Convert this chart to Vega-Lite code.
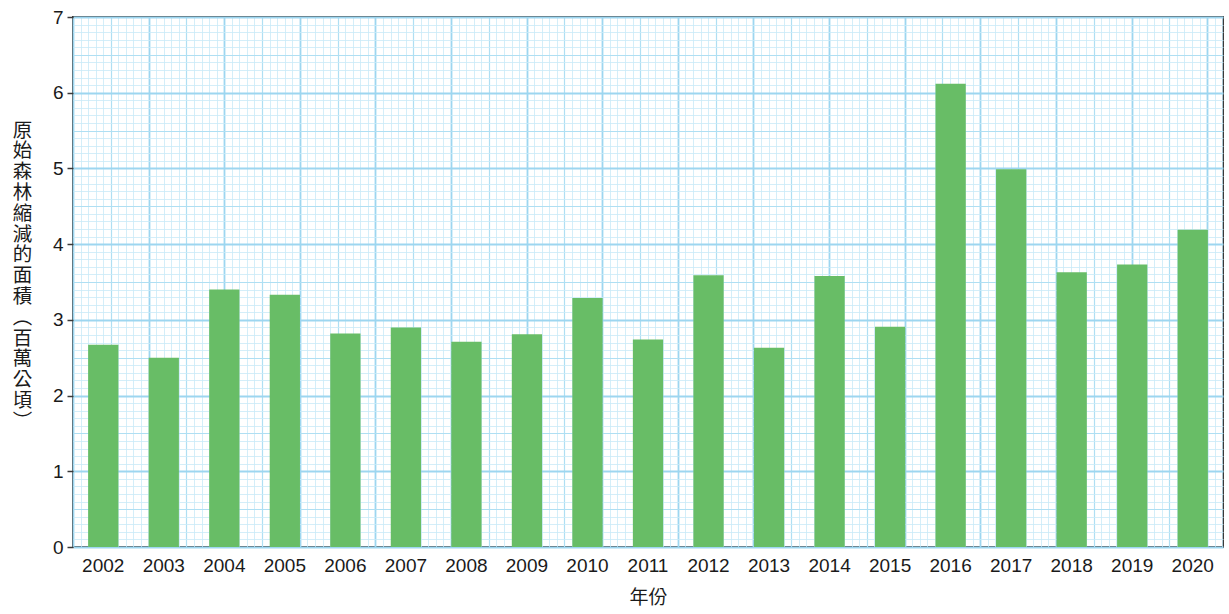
{
  "$schema": "https://vega.github.io/schema/vega-lite/v6.json",
  "width": 1150,
  "height": 530,
  "autosize": {"type": "none"},
  "padding": {"left": 73, "top": 17, "right": 6, "bottom": 67},
  "background": "white",
  "config": {
    "view": {"stroke": "#3a3a3a", "strokeWidth": 2},
    "axis": {"labelFont": "Liberation Sans", "labelColor": "#1a1a1a", "titleColor": "#1a1a1a", "titleFont": "Noto Sans CJK TC", "titleFontWeight": "normal"}
  },
  "data": {"values": [
    {"year": "2002", "area": 2.67},
    {"year": "2003", "area": 2.50},
    {"year": "2004", "area": 3.40},
    {"year": "2005", "area": 3.33},
    {"year": "2006", "area": 2.82},
    {"year": "2007", "area": 2.90},
    {"year": "2008", "area": 2.71},
    {"year": "2009", "area": 2.81},
    {"year": "2010", "area": 3.29},
    {"year": "2011", "area": 2.74},
    {"year": "2012", "area": 3.59},
    {"year": "2013", "area": 2.63},
    {"year": "2014", "area": 3.58},
    {"year": "2015", "area": 2.91},
    {"year": "2016", "area": 6.12},
    {"year": "2017", "area": 4.99},
    {"year": "2018", "area": 3.63},
    {"year": "2019", "area": 3.73},
    {"year": "2020", "area": 4.19}
  ]},
  "layer": [
    {
      "mark": {"type": "point", "opacity": 0},
      "encoding": {
        "x": {"datum": 0, "type": "quantitative",
          "scale": {"domain": [0, 15.21], "nice": false, "zero": false},
          "axis": {"orient": "top", "title": null, "labels": false, "ticks": false, "domain": false, "grid": true,
            "values": [0,0.1,0.2,0.3,0.4,0.5,0.6,0.7,0.8,0.9,1,1.1,1.2,1.3,1.4,1.5,1.6,1.7,1.8,1.9,2,2.1,2.2,2.3,2.4,2.5,2.6,2.7,2.8,2.9,3,3.1,3.2,3.3,3.4,3.5,3.6,3.7,3.8,3.9,4,4.1,4.2,4.3,4.4,4.5,4.6,4.7,4.8,4.9,5,5.1,5.2,5.3,5.4,5.5,5.6,5.7,5.8,5.9,6,6.1,6.2,6.3,6.4,6.5,6.6,6.7,6.8,6.9,7,7.1,7.2,7.3,7.4,7.5,7.6,7.7,7.8,7.9,8,8.1,8.2,8.3,8.4,8.5,8.6,8.7,8.8,8.9,9,9.1,9.2,9.3,9.4,9.5,9.6,9.7,9.8,9.9,10,10.1,10.2,10.3,10.4,10.5,10.6,10.7,10.8,10.9,11,11.1,11.2,11.3,11.4,11.5,11.6,11.7,11.8,11.9,12,12.1,12.2,12.3,12.4,12.5,12.6,12.7,12.8,12.9,13,13.1,13.2,13.3,13.4,13.5,13.6,13.7,13.8,13.9,14,14.1,14.2,14.3,14.4,14.5,14.6,14.7,14.8,14.9,15,15.1,15.2],
            "gridColor": {"condition": [
              {"test": "abs(datum.value - round(datum.value)) < 0.001", "value": "#9dd6f0"},
              {"test": "abs(datum.value*2 - round(datum.value*2)) < 0.001", "value": "#afdff3"}
            ], "value": "#c9eaf7"},
            "gridWidth": {"condition": [
              {"test": "abs(datum.value - round(datum.value)) < 0.001", "value": 1.8},
              {"test": "abs(datum.value*2 - round(datum.value*2)) < 0.001", "value": 1.2}
            ], "value": 0.8}
          }
        },
        "y": {"datum": 0, "type": "quantitative",
          "scale": {"domain": [0, 7], "nice": false, "zero": false},
          "axis": {"orient": "right", "title": null, "labels": false, "ticks": false, "domain": false, "grid": true,
            "values": [0,0.1,0.2,0.3,0.4,0.5,0.6,0.7,0.8,0.9,1,1.1,1.2,1.3,1.4,1.5,1.6,1.7,1.8,1.9,2,2.1,2.2,2.3,2.4,2.5,2.6,2.7,2.8,2.9,3,3.1,3.2,3.3,3.4,3.5,3.6,3.7,3.8,3.9,4,4.1,4.2,4.3,4.4,4.5,4.6,4.7,4.8,4.9,5,5.1,5.2,5.3,5.4,5.5,5.6,5.7,5.8,5.9,6,6.1,6.2,6.3,6.4,6.5,6.6,6.7,6.8,6.9,7],
            "gridColor": {"condition": [
              {"test": "abs(datum.value - round(datum.value)) < 0.001", "value": "#9dd6f0"},
              {"test": "abs(datum.value*2 - round(datum.value*2)) < 0.001", "value": "#afdff3"}
            ], "value": "#c9eaf7"},
            "gridWidth": {"condition": [
              {"test": "abs(datum.value - round(datum.value)) < 0.001", "value": 1.8},
              {"test": "abs(datum.value*2 - round(datum.value*2)) < 0.001", "value": 1.2}
            ], "value": 0.8}
          }
        }
      }
    },
    {
      "mark": {"type": "bar", "color": "#68bd66"},
      "encoding": {
        "x": {"field": "year", "type": "ordinal",
          "scale": {"paddingInner": 0.5, "paddingOuter": 0.25},
          "axis": {"orient": "bottom", "title": "年份", "labelAngle": 0, "labelFontSize": 19, "ticks": false, "labelPadding": 9, "domain": false, "grid": false, "titleFontSize": 19, "titlePadding": 13}
        },
        "y": {"field": "area", "type": "quantitative",
          "scale": {"domain": [0, 7], "nice": false},
          "axis": {"orient": "left", "values": [0,1,2,3,4,5,6,7], "grid": false, "domain": false, "tickSize": 6, "tickColor": "#3a3a3a", "tickWidth": 1.5, "labelFontSize": 19, "labelPadding": 4,
            "title": ["原","始","森","林","縮","減","的","面","積","︵","百","萬","公","頃","︶"],
            "titleAngle": 0, "titleFontSize": 19.5, "titleLineHeight": 20.8, "titleAlign": "center", "titleBaseline": "top", "titleX": -51, "titleY": 104}
        }
      }
    }
  ],
  "resolve": {"scale": {"x": "independent", "y": "independent"}, "axis": {"x": "independent", "y": "independent"}}
}
